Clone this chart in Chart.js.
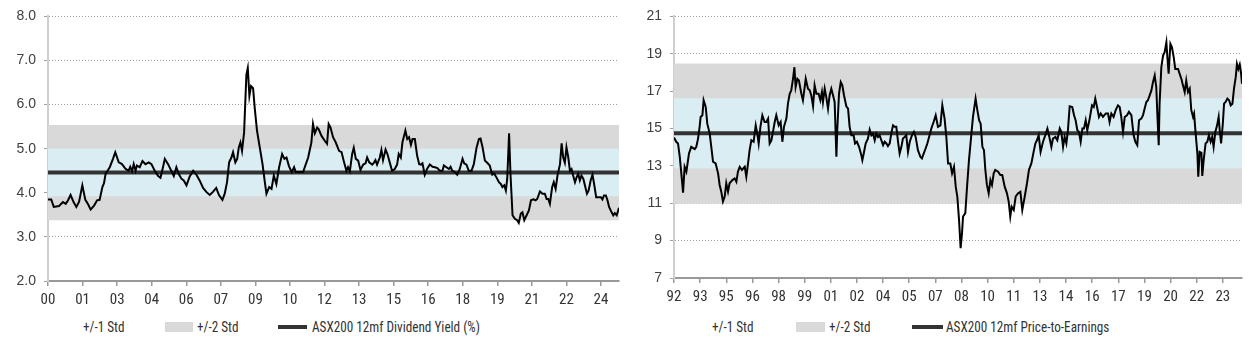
<!DOCTYPE html>
<html>
<head>
<meta charset="utf-8">
<script src="https://cdn.jsdelivr.net/npm/chart.js@4.4.1/dist/chart.umd.min.js"></script>
<style>
  body { margin: 0; background: #fff; width: 1249px; height: 351px; overflow: hidden; position: relative; }
  #left { position: absolute; left: 0; top: 0; }
  #right { position: absolute; left: 630px; top: 0; }
  .lg { position: absolute; top: 318px; font: 15px 'Liberation Sans Narrow', 'Roboto Condensed', 'DejaVu Sans Condensed', Roboto, sans-serif; line-height: 18px; color: #333; white-space: nowrap; transform: scaleX(0.88); transform-origin: left center; }
  .box { position: absolute; top: 322px; height: 10px; background: #d9d9d9; }
  .ln { position: absolute; top: 325px; height: 4px; background: #333; }
</style>
</head>
<body>
<canvas id="left" width="630" height="310"></canvas>
<canvas id="right" width="619" height="310"></canvas>

<span class="lg" style="left:83px">+/-1 Std</span>
<div class="box" style="left:165px;width:28px"></div>
<span class="lg" style="left:197px">+/-2 Std</span>
<div class="ln" style="left:278px;width:29px"></div>
<span class="lg" style="left:312px">ASX200 12mf Dividend Yield (%)</span>

<span class="lg" style="left:712px">+/-1 Std</span>
<div class="box" style="left:796px;width:29px"></div>
<span class="lg" style="left:829px">+/-2 Std</span>
<div class="ln" style="left:912px;width:31px"></div>
<span class="lg" style="left:946px">ASX200 12mf Price-to-Earnings</span>

<script>
// left chart: 12mf dividend yield (%), x in decimal years
const yieldDates = [
  2000.00, 2000.14, 2000.25, 2000.48, 2000.65, 2000.77, 2000.87, 2000.98, 2001.11, 2001.23,
  2001.35, 2001.49, 2001.62, 2001.74, 2001.85, 2002.00, 2002.13, 2002.24, 2002.36, 2002.43,
  2002.50, 2002.68, 2002.82, 2002.92, 2003.07, 2003.21, 2003.37, 2003.50, 2003.57, 2003.65,
  2003.72, 2003.80, 2003.86, 2003.98, 2004.10, 2004.23, 2004.37, 2004.49, 2004.63, 2004.78,
  2004.88, 2004.99, 2005.07, 2005.21, 2005.35, 2005.46, 2005.57, 2005.67, 2005.79, 2005.89,
  2006.01, 2006.15, 2006.30, 2006.44, 2006.58, 2006.73, 2006.87, 2007.02, 2007.16, 2007.30,
  2007.42, 2007.57, 2007.67, 2007.77, 2007.86, 2007.96, 2008.03, 2008.13, 2008.21, 2008.28,
  2008.35, 2008.42, 2008.51, 2008.61, 2008.67, 2008.74, 2008.81, 2008.90, 2008.97, 2009.07,
  2009.19, 2009.31, 2009.41, 2009.48, 2009.60, 2009.70, 2009.80, 2009.91, 2010.03, 2010.16,
  2010.26, 2010.35, 2010.46, 2010.58, 2010.68, 2010.75, 2011.07, 2011.29, 2011.43, 2011.50,
  2011.58, 2011.68, 2011.75, 2011.87, 2012.01, 2012.11, 2012.18, 2012.26, 2012.37, 2012.49,
  2012.63, 2012.74, 2012.85, 2012.95, 2013.02, 2013.10, 2013.20, 2013.27, 2013.36, 2013.46,
  2013.56, 2013.68, 2013.78, 2013.85, 2013.94, 2014.07, 2014.14, 2014.21, 2014.28, 2014.40,
  2014.47, 2014.54, 2014.65, 2014.73, 2014.83, 2014.93, 2015.05, 2015.15, 2015.22, 2015.31,
  2015.38, 2015.51, 2015.59, 2015.67, 2015.75, 2015.82, 2015.92, 2016.02, 2016.11, 2016.18,
  2016.25, 2016.35, 2016.45, 2016.57, 2016.69, 2016.79, 2016.90, 2017.00, 2017.12, 2017.18,
  2017.29, 2017.40, 2017.47, 2017.54, 2017.66, 2017.76, 2017.87, 2017.99, 2018.06, 2018.16,
  2018.26, 2018.38, 2018.48, 2018.60, 2018.70, 2018.77, 2018.86, 2018.96, 2019.06, 2019.17,
  2019.28, 2019.36, 2019.46, 2019.57, 2019.65, 2019.72, 2019.80, 2019.87, 2019.93, 2020.01,
  2020.07, 2020.16, 2020.26, 2020.36, 2020.43, 2020.52, 2020.59, 2020.67, 2020.77, 2020.87,
  2020.96, 2021.06, 2021.16, 2021.23, 2021.35, 2021.46, 2021.56, 2021.64, 2021.71, 2021.78,
  2021.88, 2021.95, 2022.03, 2022.11, 2022.22, 2022.29, 2022.36, 2022.43, 2022.50, 2022.58,
  2022.65, 2022.72, 2022.79, 2022.87, 2022.94, 2023.01, 2023.08, 2023.15, 2023.23, 2023.30,
  2023.39, 2023.46, 2023.55, 2023.63, 2023.70, 2023.79, 2023.89, 2023.99, 2024.06, 2024.13,
  2024.21, 2024.28, 2024.35, 2024.43, 2024.53, 2024.60, 2024.68, 2024.78
];
const yieldValues = [
  3.85, 3.85, 3.68, 3.70, 3.79, 3.75, 3.83, 3.95, 3.79, 3.68,
  3.80, 4.17, 3.84, 3.74, 3.62, 3.71, 3.83, 3.84, 4.13, 4.22,
  4.43, 4.58, 4.77, 4.92, 4.69, 4.65, 4.54, 4.50, 4.59, 4.49,
  4.65, 4.50, 4.62, 4.58, 4.72, 4.65, 4.69, 4.65, 4.50, 4.38,
  4.34, 4.58, 4.77, 4.65, 4.50, 4.38, 4.58, 4.43, 4.32, 4.28,
  4.17, 4.37, 4.50, 4.41, 4.28, 4.11, 4.02, 3.95, 4.02, 4.11,
  3.95, 3.84, 3.98, 4.24, 4.69, 4.80, 4.92, 4.69, 4.77, 5.03,
  5.14, 4.95, 5.37, 6.68, 6.83, 6.20, 6.42, 6.37, 5.93, 5.41,
  5.03, 4.65, 4.24, 3.98, 4.13, 4.09, 4.39, 4.20, 4.58, 4.88,
  4.77, 4.80, 4.60, 4.47, 4.58, 4.47, 4.47, 4.80, 5.14, 5.56,
  5.35, 5.48, 5.44, 5.29, 5.18, 5.11, 5.56, 5.48, 5.26, 5.14,
  4.95, 4.92, 4.69, 4.50, 4.58, 4.49, 4.88, 5.02, 4.77, 4.73,
  4.52, 4.64, 4.67, 4.80, 4.69, 4.64, 4.68, 4.74, 4.64, 4.80,
  4.97, 4.74, 4.98, 4.88, 4.69, 4.50, 4.54, 4.64, 4.88, 4.80,
  5.14, 5.41, 5.22, 5.26, 5.09, 5.22, 5.22, 4.84, 4.65, 4.64,
  4.67, 4.41, 4.54, 4.64, 4.59, 4.58, 4.56, 4.50, 4.50, 4.62,
  4.58, 4.54, 4.59, 4.50, 4.47, 4.41, 4.54, 4.77, 4.67, 4.64,
  4.50, 4.50, 4.65, 5.03, 5.22, 5.23, 5.03, 4.73, 4.68, 4.62,
  4.41, 4.44, 4.35, 4.24, 4.20, 4.13, 4.17, 4.05, 4.32, 5.35,
  4.43, 3.49, 3.41, 3.38, 3.32, 3.53, 3.56, 3.38, 3.49, 3.60,
  3.83, 3.85, 3.83, 3.86, 4.03, 3.98, 3.98, 3.86, 3.86, 3.75,
  4.13, 4.24, 4.09, 4.39, 4.65, 5.12, 4.80, 4.68, 5.03, 4.80,
  4.50, 4.54, 4.39, 4.24, 4.35, 4.43, 4.28, 4.39, 4.32, 4.17,
  3.98, 4.05, 4.28, 4.41, 4.20, 3.90, 3.90, 3.90, 3.85, 3.94,
  3.94, 3.83, 3.68, 3.59, 3.49, 3.54, 3.49, 3.66
];
const yieldMean = 4.46;
const yieldStd1 = [3.92, 5.00];
const yieldStd2 = [3.38, 5.54];
const yieldTickLabels = ['00', '01', '03', '04', '06', '07', '09', '10', '12', '13', '15', '16', '18', '19', '21', '22', '24'];

// right chart: 12mf price-to-earnings
const peDates = [
  1992.00, 1992.13, 1992.23, 1992.33, 1992.42, 1992.52, 1992.61, 1992.71, 1992.86, 1992.99,
  1993.19, 1993.28, 1993.38, 1993.47, 1993.53, 1993.63, 1993.70, 1993.82, 1993.91, 1994.05,
  1994.14, 1994.24, 1994.39, 1994.53, 1994.62, 1994.72, 1994.81, 1994.91, 1995.00, 1995.10,
  1995.19, 1995.35, 1995.48, 1995.58, 1995.67, 1995.77, 1995.90, 1996.06, 1996.15, 1996.25,
  1996.34, 1996.44, 1996.57, 1996.69, 1996.78, 1996.86, 1996.96, 1997.07, 1997.20, 1997.30,
  1997.40, 1997.49, 1997.59, 1997.68, 1997.78, 1997.87, 1998.01, 1998.12, 1998.22, 1998.31,
  1998.45, 1998.54, 1998.64, 1998.73, 1998.83, 1998.91, 1998.98, 1999.08, 1999.17, 1999.31,
  1999.40, 1999.50, 1999.56, 1999.69, 1999.79, 1999.88, 1999.98, 2000.07, 2000.17, 2000.30,
  2000.40, 2000.49, 2000.55, 2000.65, 2000.74, 2000.84, 2000.93, 2001.03, 2001.13, 2001.22,
  2001.32, 2001.37, 2001.47, 2001.57, 2001.66, 2001.76, 2001.89, 2001.99, 2002.08, 2002.18,
  2002.31, 2002.39, 2002.50, 2002.62, 2002.75, 2002.81, 2002.89, 2003.00, 2003.13, 2003.23,
  2003.33, 2003.42, 2003.52, 2003.61, 2003.71, 2003.80, 2003.90, 2004.00, 2004.09, 2004.19,
  2004.28, 2004.38, 2004.47, 2004.57, 2004.66, 2004.76, 2004.86, 2004.95, 2005.05, 2005.14,
  2005.24, 2005.33, 2005.43, 2005.53, 2005.66, 2005.77, 2005.87, 2006.00, 2006.14, 2006.23,
  2006.33, 2006.44, 2006.54, 2006.64, 2006.77, 2006.90, 2007.02, 2007.15, 2007.29, 2007.40,
  2007.53, 2007.63, 2007.73, 2007.86, 2007.96, 2008.07, 2008.17, 2008.26, 2008.36, 2008.45,
  2008.53, 2008.59, 2008.72, 2008.82, 2008.93, 2009.07, 2009.16, 2009.31, 2009.41, 2009.51,
  2009.60, 2009.70, 2009.79, 2009.87, 2009.96, 2010.06, 2010.16, 2010.25, 2010.35, 2010.44,
  2010.60, 2010.73, 2010.84, 2010.98, 2011.11, 2011.21, 2011.30, 2011.38, 2011.50, 2011.61,
  2011.74, 2011.88, 2011.99, 2012.13, 2012.26, 2012.37, 2012.51, 2012.64, 2012.74, 2012.83,
  2012.93, 2013.04, 2013.18, 2013.31, 2013.43, 2013.52, 2013.66, 2013.75, 2013.89, 2014.00,
  2014.14, 2014.23, 2014.33, 2014.42, 2014.52, 2014.61, 2014.71, 2014.86, 2014.96, 2015.05,
  2015.15, 2015.24, 2015.34, 2015.44, 2015.53, 2015.63, 2015.72, 2015.86, 2015.99, 2016.09,
  2016.18, 2016.28, 2016.39, 2016.49, 2016.62, 2016.78, 2016.91, 2017.00, 2017.10, 2017.23,
  2017.35, 2017.48, 2017.58, 2017.67, 2017.77, 2017.87, 2018.00, 2018.11, 2018.25, 2018.38,
  2018.48, 2018.59, 2018.69, 2018.82, 2018.92, 2019.01, 2019.11, 2019.20, 2019.30, 2019.40,
  2019.49, 2019.59, 2019.68, 2019.74, 2019.82, 2019.87, 2019.97, 2020.07, 2020.16, 2020.26,
  2020.33, 2020.39, 2020.49, 2020.58, 2020.68, 2020.77, 2020.93, 2021.02, 2021.12, 2021.21,
  2021.31, 2021.40, 2021.50, 2021.60, 2021.69, 2021.79, 2021.85, 2021.94, 2022.04, 2022.09,
  2022.17, 2022.27, 2022.32, 2022.40, 2022.51, 2022.61, 2022.70, 2022.80, 2022.89, 2022.97,
  2023.07, 2023.17, 2023.26, 2023.32, 2023.40, 2023.50, 2023.57, 2023.66, 2023.76, 2023.86,
  2023.95, 2024.05, 2024.14, 2024.24, 2024.31, 2024.39, 2024.47, 2024.55, 2024.60
];
const peValues = [
  14.52, 14.29, 14.20, 13.49, 12.60, 11.57, 12.95, 12.69, 13.66, 14.02,
  13.90, 14.02, 14.46, 15.09, 15.62, 15.71, 16.51, 16.15, 15.26, 14.73,
  14.02, 13.22, 13.13, 12.60, 11.98, 11.59, 11.09, 11.36, 12.07, 11.62,
  12.07, 12.24, 12.33, 12.15, 12.69, 12.95, 12.78, 12.95, 12.42, 13.13,
  13.84, 14.37, 14.29, 15.17, 14.73, 14.20, 15.09, 15.71, 15.35, 15.35,
  15.53, 14.20, 14.37, 14.82, 15.35, 15.71, 15.17, 15.35, 14.29, 15.09,
  15.53, 16.33, 16.86, 17.04, 17.66, 18.28, 17.22, 17.66, 17.57, 16.86,
  16.51, 17.22, 17.66, 17.13, 17.04, 16.77, 16.19, 17.31, 16.86, 16.86,
  16.51, 16.95, 16.42, 17.13, 16.68, 16.06, 16.77, 17.13, 16.77, 16.42,
  13.49, 14.91, 16.86, 17.48, 17.31, 16.77, 16.19, 16.06, 15.09, 14.64,
  14.64, 14.20, 14.29, 14.02, 13.58, 13.31, 13.66, 14.20, 14.46, 14.94,
  14.64, 14.73, 14.37, 14.73, 14.55, 14.64, 14.37, 14.11, 14.29, 14.20,
  14.06, 14.20, 14.73, 15.17, 15.09, 15.09, 14.29, 13.66, 14.02, 14.46,
  14.55, 14.64, 13.75, 14.29, 14.64, 14.82, 14.55, 13.84, 13.49, 13.40,
  13.66, 13.93, 14.20, 14.55, 15.00, 15.35, 15.71, 15.09, 15.17, 16.24,
  15.53, 14.55, 13.13, 13.13, 12.60, 12.95, 11.89, 11.36, 10.11, 8.60,
  9.40, 10.29, 10.47, 11.89, 13.31, 14.73, 15.62, 16.60, 15.98, 15.44,
  15.26, 14.02, 13.84, 12.78, 11.98, 11.53, 12.24, 11.98, 12.60, 12.78,
  12.69, 12.51, 12.51, 11.89, 11.53, 11.09, 10.29, 10.82, 10.64, 11.36,
  11.53, 11.62, 10.64, 11.36, 12.07, 12.78, 13.13, 13.75, 14.20, 14.37,
  14.64, 13.75, 14.29, 14.64, 15.00, 14.64, 14.02, 14.46, 14.55, 14.37,
  15.00, 14.82, 14.02, 14.55, 14.20, 14.91, 16.19, 16.15, 15.71, 15.44,
  14.91, 14.82, 14.29, 15.00, 15.00, 15.44, 14.91, 15.53, 16.24, 16.15,
  16.60, 16.15, 15.62, 15.80, 15.62, 15.80, 15.80, 15.35, 15.80, 15.62,
  15.98, 16.24, 16.15, 15.62, 14.82, 15.62, 15.71, 15.89, 15.71, 14.64,
  14.29, 14.11, 15.44, 15.53, 15.71, 16.06, 16.42, 16.51, 16.77, 17.04,
  17.48, 17.84, 17.22, 15.80, 14.11, 16.33, 18.28, 18.90, 19.08, 19.61,
  18.64, 17.93, 19.53, 19.35, 18.82, 18.19, 18.19, 17.93, 17.66, 17.31,
  16.95, 17.57, 16.95, 17.13, 15.98, 15.62, 15.80, 14.73, 13.66, 12.42,
  13.75, 13.70, 12.46, 13.31, 14.20, 14.29, 14.64, 14.29, 14.55, 14.02,
  14.82, 15.17, 15.62, 14.91, 14.20, 15.26, 16.33, 16.42, 16.60, 16.51,
  16.24, 16.33, 17.13, 17.75, 18.46, 18.19, 18.42, 17.93, 17.39
];
const peMean = 14.74;
const peStd1 = [12.86, 16.62];
const peStd2 = [10.98, 18.48];
const peTickLabels = ['92', '93', '95', '96', '98', '99', '01', '02', '04', '05', '07', '08', '10', '11', '13', '14', '16', '17', '19', '20', '22', '23'];

const narrowFont = "'Liberation Sans Narrow', 'Roboto Condensed', 'DejaVu Sans Condensed', Roboto, sans-serif";
const BLUE = '#daedf2';
const GREY = '#d9d9d9';

function buildChart(id, cfg) {
  const xMin = cfg.dates[0];
  const xMax = cfg.dates[cfg.dates.length - 1];
  const flat = (y) => [{ x: xMin, y }, { x: xMax, y }];
  const band = (y, color, fill) => ({
    data: flat(y), borderWidth: 0, pointRadius: 0, backgroundColor: color, fill,
  });

  return new Chart(document.getElementById(id), {
    type: 'line',
    data: {
      datasets: [
        {
          data: cfg.dates.map((d, i) => ({ x: d, y: cfg.values[i] })),
          borderColor: '#000', borderWidth: 2, pointRadius: 0, tension: 0, fill: false,
        },
        { data: flat(cfg.mean), borderColor: '#333', borderWidth: 4, pointRadius: 0, fill: false },
        band(cfg.std1[1], BLUE, '+1'),
        band(cfg.std1[0], BLUE, false),
        band(cfg.std2[1], GREY, '+1'),
        band(cfg.std2[0], GREY, false),
      ],
    },
    options: {
      responsive: false,
      animation: false,
      layout: { padding: { top: 15, right: cfg.padRight, left: 0, bottom: 0 } },
      plugins: { legend: { display: false }, tooltip: { enabled: false } },
      scales: {
        x: {
          type: 'linear',
          min: xMin,
          max: xMax,
          afterBuildTicks: (s) => {
            s.ticks = cfg.tickLabels.map((_, i) => ({ value: cfg.tickStart + i * 1.5 }));
          },
          afterFit: (s) => { s.height = cfg.xHeight; },
          ticks: {
            autoSkip: false, maxRotation: 0, padding: 5, color: '#333',
            font: { family: narrowFont, size: 15 },
            callback: (v, i) => cfg.tickLabels[i],
          },
          grid: { drawOnChartArea: false, tickLength: 5, color: '#999', lineWidth: 1.5 },
          border: { color: '#999', width: 2 },
        },
        y: {
          min: cfg.yMin,
          max: cfg.yMax,
          afterFit: (s) => { s.width = cfg.yWidth; },
          ticks: {
            stepSize: cfg.step, padding: 8, color: '#404040',
            font: { family: "'Liberation Sans', Arial, sans-serif", size: 14 },
            callback: (v) => v.toFixed(cfg.decimals),
          },
          grid: { color: '#a0a0a0', lineWidth: 1, tickLength: 4 },
          border: { color: '#cfcfcf', width: 2, dash: [1, 2] },
        },
      },
    },
  });
}

buildChart('left', {
  dates: yieldDates, values: yieldValues, mean: yieldMean, std1: yieldStd1, std2: yieldStd2,
  tickLabels: yieldTickLabels, tickStart: 2000,
  yMin: 2, yMax: 8, step: 1, decimals: 1,
  yWidth: 48, xHeight: 29, padRight: 11,
});

buildChart('right', {
  dates: peDates, values: peValues, mean: peMean, std1: peStd1, std2: peStd2,
  tickLabels: peTickLabels, tickStart: 1992,
  yMin: 7, yMax: 21, step: 2, decimals: 0,
  yWidth: 44, xHeight: 32, padRight: 7,
});
</script>
</body>
</html>
